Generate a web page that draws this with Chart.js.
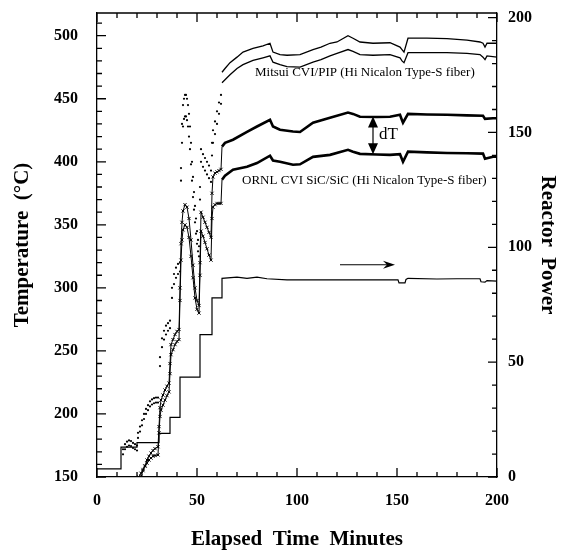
<!DOCTYPE html>
<html>
<head>
<meta charset="utf-8">
<script src="https://cdn.jsdelivr.net/npm/chart.js@4.4.0/dist/chart.umd.min.js"></script>
<style>
  body { margin: 0; background: #fff; }
  canvas { display: block; }
</style>
</head>
<body>
<canvas id="reactor" width="569" height="552"></canvas>
<script>
// values: elapsed time (min), temperature (°C), reactor power
const mitsuiATime = [13, 14, 15, 16, 17, 18, 19, 20,
  20.5, 21.5, 22.5, 23.5, 24.5, 25.5, 26.5, 27.5, 28.5, 29.5, 30.5,
  31.5, 32.5, 33.5, 34.5, 35.5, 36.5,
  37.5, 38.5, 39.5, 40.5, 41.5,
  42, 42.5, 43, 43.5, 44, 44.5, 45, 45.5, 46, 46.5, 47, 47.5, 48, 48.5, 49, 49.5, 50, 50.5, 51,
  51.5, 52, 53, 54, 55, 56, 57,
  57.5, 58, 59, 60, 61, 62,
  62.5, 64, 66.5, 70, 73, 78, 83, 86.5, 88, 91.5, 95, 101.5, 108, 112, 116.5, 120, 125.5, 128,
  131.5, 138, 146.5, 151.5, 152.5, 153.5, 155.5, 165, 175, 185, 191.5, 193, 194, 195, 200];
const mitsuiATemp = [172, 176, 178, 179, 178.5, 177, 176, 175,
  185, 190, 195, 200, 204, 207, 210, 211.5, 212.5, 213, 213,
  245, 260, 266, 270, 272, 274,
  300, 311, 316, 319, 320,
  395, 430, 445, 450, 453, 453, 450, 445, 438, 428, 415, 400, 388, 376, 365, 355, 345, 338, 333,
  380, 410, 406, 403, 400, 397, 393,
  415, 425, 432, 440, 447, 453,
  471, 474, 478.6, 483, 487, 490, 492, 494, 487, 485, 484.5, 485, 489, 491, 494, 495, 500, 498,
  495, 494, 494.4, 491, 489, 487, 498, 498, 497.6, 496.5, 495, 494, 491, 494, 494];

const mitsuiBTime = mitsuiATime;
const mitsuiBTemp = [168, 172, 174, 175, 174.5, 173, 172, 171,
  181, 186, 191, 196, 200, 203, 206, 207.5, 208.5, 209, 209,
  238, 253, 259, 263, 266, 268,
  292, 303, 308, 311, 313,
  385, 415, 428, 434, 436, 436, 433, 428, 420, 410, 398, 385, 372, 362, 352, 343, 335, 329, 325,
  370, 400, 396, 393, 390, 387, 384,
  405, 415, 422, 430, 438, 446,
  462.7, 465, 469, 474, 477, 480.5, 482.5, 484, 479, 477, 475.5, 475, 479, 481, 484, 486, 489, 487.5,
  485, 484.5, 485, 482.5, 480, 478.6, 486.5, 486.5, 486.5, 486, 485, 483, 481, 484, 483];

const ornlATime = [22, 23, 24, 25, 26, 27, 28, 29, 30.5,
  31, 31.5, 32, 33, 34, 35, 36,
  36.5, 37, 38, 39, 40, 41,
  41.5, 42, 42.5, 43, 44, 45, 46, 47, 48, 49, 50, 51,
  51.5, 52, 53, 54, 55, 56, 57,
  57.5, 58, 59, 60, 61, 62,
  62.5, 64, 68, 75, 80, 86.5, 88, 91.5, 98, 101.5, 108, 116.5, 125.5, 128, 131.5, 140, 146.5,
  151.5, 152.5, 153, 155.5, 165, 175, 185, 193, 194, 198, 200];
const ornlATemp = [150, 155, 159, 163.5, 166.5, 169, 171, 172.5, 174,
  190, 205, 211, 215, 219, 222, 224.5,
  240, 255, 259, 263, 265.5, 267,
  300, 335, 352, 361, 366, 364, 355, 338, 318, 300, 290, 286,
  320, 360, 356, 352, 348, 344, 340,
  375, 388, 391, 392, 393, 394,
  412, 415, 417.5, 423.8, 428, 433.3, 428, 425.4, 424, 423.6, 431, 435, 439, 438, 435.7, 435.5, 435.7,
  437.3, 433, 431, 438, 437.5, 437.3, 436.8, 436.5, 434, 434.5, 434.5];

const ornlBTime = [21, 22, 23, 24, 25, 26, 27, 28, 29, 30.5,
  31, 31.5, 32, 33, 34, 35, 36,
  36.5, 37, 38, 39, 40, 41,
  41.5, 42, 42.5, 43, 44, 45, 46, 47, 48, 49, 50, 51,
  51.5, 52, 53, 54, 55, 56, 57,
  57.5, 58, 59, 60, 61, 62,
  62.5, 64, 68, 75, 80, 86.5, 88, 91.5, 98, 101.5, 108, 116.5, 125.5, 128, 131.5, 140, 146.5,
  151.5, 152.5, 153, 155.5, 165, 175, 185, 193, 194, 198, 200];
const ornlBTemp = [150, 153, 156, 158.5, 161, 163.5, 165, 166.5, 167, 167.5,
  185, 198, 203, 207, 211, 214.5, 217.5,
  232, 247, 251, 255, 257.5, 259,
  290, 322, 338, 346, 350, 348, 340, 325, 308, 292, 283, 280,
  310, 345, 341, 336, 331, 326, 322,
  355, 364, 366, 367, 367, 367,
  385.7, 389, 393.7, 396, 399, 404.8, 401, 400, 397.6, 398, 403.9, 405.5, 409.5, 408, 406.3, 405.8, 405.5,
  406, 402, 400, 408, 407.5, 407, 406.8, 406.5, 402.4, 404, 404];

const powerTime = [0, 12, 12, 20, 20, 31, 31, 36.5, 36.5, 41.5, 41.5, 51.5, 51.5, 57.5, 57.5, 62.5, 62.5,
  70, 75, 80, 85, 95, 113, 150.5, 151, 154, 154.5, 155.5, 170, 180, 191.5, 192, 194, 195, 200];
const powerLevel = [3.5, 3.5, 13, 13, 15, 15, 19, 19, 26, 26, 43.5, 43.5, 62, 62, 78, 78, 86.5,
  87, 86.5, 87, 86.3, 85.8, 85.8, 85.8, 84.5, 84.5, 86, 86.5, 86.2, 86.3, 86.3, 85, 84.8, 85.5, 85.3];

const xTickValues = [0, 50, 100, 150, 200];
const tempTickValues = [150, 200, 250, 300, 350, 400, 450, 500];
const powerTickValues = [0, 50, 100, 150, 200];

const pts = (xs, ys) => xs.map((x, i) => ({ x: x, y: ys[i] }));
const transientEnd = 62.4;
const serif = 'Liberation Serif';

// inward tick marks, top frame line and the text/arrow annotations
const frameAndNotes = {
  id: 'frameAndNotes',
  afterDraw(chart) {
    const { ctx, chartArea: a, scales } = chart;
    const sx = scales.x, sy = scales.y, sp = scales.y2;
    ctx.save();
    ctx.strokeStyle = '#000';
    ctx.lineWidth = 1.3;
    ctx.beginPath();
    ctx.moveTo(a.left, a.top); ctx.lineTo(a.right, a.top);
    for (let t = 0; t <= 200; t += 10) {
      const px = sx.getPixelForValue(t);
      const len = t % 50 === 0 ? 9 : 5;
      ctx.moveTo(px, a.bottom); ctx.lineTo(px, a.bottom - len);
      ctx.moveTo(px, a.top); ctx.lineTo(px, a.top + len);
    }
    for (let v = 150; v <= 510; v += 10) {
      const py = sy.getPixelForValue(v);
      const len = v % 50 === 0 ? 9 : 5;
      ctx.moveTo(a.left, py); ctx.lineTo(a.left + len, py);
    }
    for (let v = 0; v <= 200; v += 10) {
      const py = sp.getPixelForValue(v);
      const len = v % 50 === 0 ? 9 : 5;
      ctx.moveTo(a.right, py); ctx.lineTo(a.right - len, py);
    }
    ctx.stroke();

    ctx.fillStyle = '#000';
    ctx.textBaseline = 'middle';
    ctx.textAlign = 'left';
    ctx.font = '13px "' + serif + '"';
    ctx.fillText('Mitsui CVI/PIP (Hi Nicalon Type-S fiber)', sx.getPixelForValue(79), sy.getPixelForValue(470.6));
    ctx.fillText('ORNL CVI SiC/SiC (Hi Nicalon Type-S fiber)', sx.getPixelForValue(72.5), sy.getPixelForValue(385));
    ctx.font = '17px "' + serif + '"';
    ctx.fillText('dT', sx.getPixelForValue(141), sy.getPixelForValue(422));

    // dT double arrow
    const ax = sx.getPixelForValue(138);
    const aTop = sy.getPixelForValue(436), aBot = sy.getPixelForValue(406);
    ctx.lineWidth = 1.2;
    ctx.beginPath();
    ctx.moveTo(ax, aTop + 8); ctx.lineTo(ax, aBot - 8);
    ctx.stroke();
    ctx.beginPath();
    ctx.moveTo(ax, aTop); ctx.lineTo(ax - 5, aTop + 11); ctx.lineTo(ax + 5, aTop + 11); ctx.closePath();
    ctx.moveTo(ax, aBot); ctx.lineTo(ax - 5, aBot - 11); ctx.lineTo(ax + 5, aBot - 11); ctx.closePath();
    ctx.fill();

    // arrow pointing at the reactor power axis
    const py = sp.getPixelForValue(92.4);
    const x0 = sx.getPixelForValue(121.5), x1 = sx.getPixelForValue(149);
    ctx.lineWidth = 1;
    ctx.beginPath();
    ctx.moveTo(x0, py); ctx.lineTo(x1 - 6, py);
    ctx.stroke();
    ctx.beginPath();
    ctx.moveTo(x1, py); ctx.lineTo(x1 - 12, py - 4); ctx.lineTo(x1 - 8, py); ctx.lineTo(x1 - 12, py + 4); ctx.closePath();
    ctx.fill();
    ctx.restore();
  }
};

const dotted = {
  borderColor: '#000',
  borderWidth: 1.3,
  pointRadius: c => (c.raw && c.raw.x < transientEnd) ? 1.1 : 0,
  pointBackgroundColor: '#000',
  pointBorderWidth: 0,
  segment: { borderColor: c => c.p0.parsed.x < transientEnd ? 'rgba(0,0,0,0)' : '#000' },
  yAxisID: 'y'
};
const marked = {
  borderColor: '#000',
  borderWidth: 2.6,
  pointStyle: 'crossRot',
  pointRadius: c => (c.raw && c.raw.x < transientEnd) ? 2.2 : 0,
  pointBorderColor: '#000',
  pointBorderWidth: 1,
  segment: { borderWidth: c => c.p0.parsed.x < transientEnd ? 1 : 2.6 },
  yAxisID: 'y'
};

const fitVertical = w => s => { s.width = w; s.paddingTop = 0; s.paddingBottom = 0; };

new Chart(document.getElementById('reactor'), {
  type: 'line',
  data: {
    datasets: [
      Object.assign({ label: 'Mitsui A', data: pts(mitsuiATime, mitsuiATemp) }, dotted),
      Object.assign({ label: 'Mitsui B', data: pts(mitsuiBTime, mitsuiBTemp) }, dotted),
      Object.assign({ label: 'ORNL A', data: pts(ornlATime, ornlATemp) }, marked),
      Object.assign({ label: 'ORNL B', data: pts(ornlBTime, ornlBTemp) }, marked),
      {
        label: 'Reactor Power',
        data: pts(powerTime, powerLevel),
        borderColor: '#000',
        borderWidth: 1.2,
        pointRadius: 0,
        yAxisID: 'y2'
      }
    ]
  },
  options: {
    responsive: false,
    animation: false,
    layout: { padding: { top: 13 } },
    plugins: { legend: { display: false }, tooltip: { enabled: false } },
    scales: {
      x: {
        type: 'linear',
        min: 0, max: 200,
        afterFit: s => { s.height = 75; s.paddingLeft = 0; s.paddingRight = 0; },
        afterBuildTicks: s => { s.ticks = xTickValues.map(v => ({ value: v })); },
        grid: { display: false, drawTicks: false },
        border: { color: '#000', width: 1.3 },
        ticks: { color: '#000', padding: 14, font: { family: serif, size: 16, weight: 'bold' } },
        title: {
          display: true, text: 'Elapsed  Time  Minutes', color: '#000', padding: 0,
          font: { family: serif, size: 21, weight: 'bold' }
        }
      },
      y: {
        position: 'left',
        min: 150, max: 518,
        afterFit: fitVertical(97),
        afterBuildTicks: s => { s.ticks = tempTickValues.map(v => ({ value: v })); },
        grid: { display: false, drawTicks: false },
        border: { color: '#000', width: 1.3 },
        ticks: { color: '#000', padding: 19, font: { family: serif, size: 16, weight: 'bold' } },
        title: {
          display: true, text: 'Temperature  (°C)', color: '#000', padding: 10,
          font: { family: serif, size: 21, weight: 'bold' }
        }
      },
      y2: {
        position: 'right',
        min: 0, max: 202,
        afterFit: fitVertical(72),
        afterBuildTicks: s => { s.ticks = powerTickValues.map(v => ({ value: v })); },
        grid: { display: false, drawTicks: false },
        border: { color: '#000', width: 1.3 },
        ticks: { color: '#000', padding: 11, font: { family: serif, size: 16, weight: 'bold' } },
        title: {
          display: true, text: 'Reactor  Power', color: '#000', padding: 9,
          font: { family: serif, size: 21, weight: 'bold' }
        }
      }
    }
  },
  plugins: [frameAndNotes]
});
</script>
</body>
</html>
